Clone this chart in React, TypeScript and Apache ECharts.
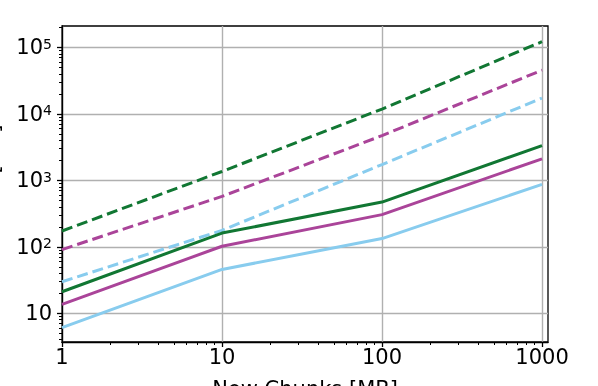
import React, { useEffect, useRef } from "react";
import * as echarts from "echarts";

const xValues = [1, 10, 100, 1000];
const solidGreen = [21.1, 161, 471, 3337];
const solidMagenta = [13.6, 102, 305, 2110];
const solidBlue = [6.1, 45.7, 133, 869];
const dashedGreen = [173, 1360, 11830, 122000];
const dashedMagenta = [91, 574, 4710, 45500];
const dashedBlue = [29.8, 177, 1730, 17300];

const xTicks = [1, 10, 100, 1000];
const yTicks = [10, 100, 1000, 10000, 100000];
const xMinorTicks: number[] = [];
for (const d of [1, 10, 100]) for (let k = 2; k <= 9; k++) xMinorTicks.push(k * d);
const yMinorTicks: number[] = [4, 5, 6, 7, 8, 9];
for (const d of [10, 100, 1000, 10000]) for (let k = 2; k <= 9; k++) yMinorTicks.push(k * d);
yMinorTicks.push(200000);

const FONT = "DejaVu Sans";
const GREEN = "#117733";
const MAGENTA = "#AA4499";
const BLUE = "#88CCEE";

const X_MIN = 1;
const X_MAX = 1090;
const Y_MIN = 3.7;
const Y_MAX = 210000;

function mk(name: string, vals: number[], color: string, dashed: boolean) {
  return {
    name,
    type: "line",
    data: xValues.map((x, i) => [x, vals[i]]),
    showSymbol: false,
    symbol: "none",
    lineStyle: { color, width: 3, type: dashed ? [11, 5] : "solid" },
    itemStyle: { color },
    z: 3,
  };
}

export default function App() {
  const ref = useRef<HTMLDivElement>(null);
  useEffect(() => {
    if (!ref.current) return;
    const chart = echarts.init(ref.current, undefined, { renderer: "svg" });
    const baseX = { type: "log", logBase: 10, min: X_MIN, max: X_MAX };
    const baseY = { type: "log", logBase: 10, min: Y_MIN, max: Y_MAX };
    chart.setOption({
      animation: false,
      grid: {
        left: 62,
        right: 50,
        top: 26,
        bottom: 44,
        containLabel: false,
        outerBoundsMode: "none",
        show: true,
        borderColor: "#000",
        borderWidth: 1.3,
        backgroundColor: "transparent",
      },
      xAxis: [
        {
          ...baseX,
          position: "bottom",
          name: "New Chunks [MB]",
          nameLocation: "middle",
          nameGap: 36,
          nameTextStyle: { fontSize: 21, color: "#000", fontFamily: FONT },
          axisLine: { show: true, lineStyle: { color: "#000", width: 1.3 } },
          axisTick: { show: true, inside: false, length: 5, customValues: xTicks, lineStyle: { color: "#000", width: 1.3 } },
          axisLabel: { customValues: xTicks, margin: 4, fontSize: 21, color: "#000", fontFamily: FONT, formatter: (v: number) => String(Math.round(v)) },
          splitLine: { show: true, lineStyle: { color: "#b0b0b0", width: 1.4 } },
        },
        {
          ...baseX,
          position: "bottom",
          axisLine: { show: false },
          axisTick: { show: true, inside: false, length: 3, customValues: xMinorTicks, lineStyle: { color: "#000", width: 1 } },
          axisLabel: { show: false },
          splitLine: { show: false },
        },
      ],
      yAxis: [
        {
          ...baseY,
          position: "left",
          name: "Traffic [MB]",
          nameLocation: "middle",
          nameGap: 60,
          nameTextStyle: { fontSize: 21, color: "#000", fontFamily: FONT },
          axisLine: { show: true, lineStyle: { color: "#000", width: 1.3 } },
          axisTick: { show: true, inside: false, length: 5, customValues: yTicks, lineStyle: { color: "#000", width: 1.3 } },
          axisLabel: {
            customValues: yTicks,
            margin: 10,
            color: "#000",
            fontFamily: FONT,
            formatter: (v: number) => {
              const e = Math.round(Math.log10(v));
              return e === 1 ? "{b|10}" : "{b|10}{s|" + e + "}";
            },
            rich: {
              b: { fontSize: 21, lineHeight: 21, verticalAlign: "bottom", fontFamily: FONT, color: "#000" },
              s: { fontSize: 14, lineHeight: 12, padding: [0, 0, 12, 0], verticalAlign: "top", fontFamily: FONT, color: "#000" },
            },
          },
          splitLine: { show: true, lineStyle: { color: "#b0b0b0", width: 1.4 } },
        },
        {
          ...baseY,
          position: "left",
          axisLine: { show: false },
          axisTick: { show: true, inside: false, length: 3, customValues: yMinorTicks, lineStyle: { color: "#000", width: 1 } },
          axisLabel: { show: false },
          splitLine: { show: false },
        },
      ],
      series: [
        mk("Dashed A", dashedGreen, GREEN, true),
        mk("Dashed B", dashedMagenta, MAGENTA, true),
        mk("Dashed C", dashedBlue, BLUE, true),
        mk("Solid A", solidGreen, GREEN, false),
        mk("Solid B", solidMagenta, MAGENTA, false),
        mk("Solid C", solidBlue, BLUE, false),
      ],
    });
    return () => chart.dispose();
  }, []);
  return <div ref={ref} style={{ width: 598, height: 386, position: "fixed", left: 0, top: 0 }} />;
}
